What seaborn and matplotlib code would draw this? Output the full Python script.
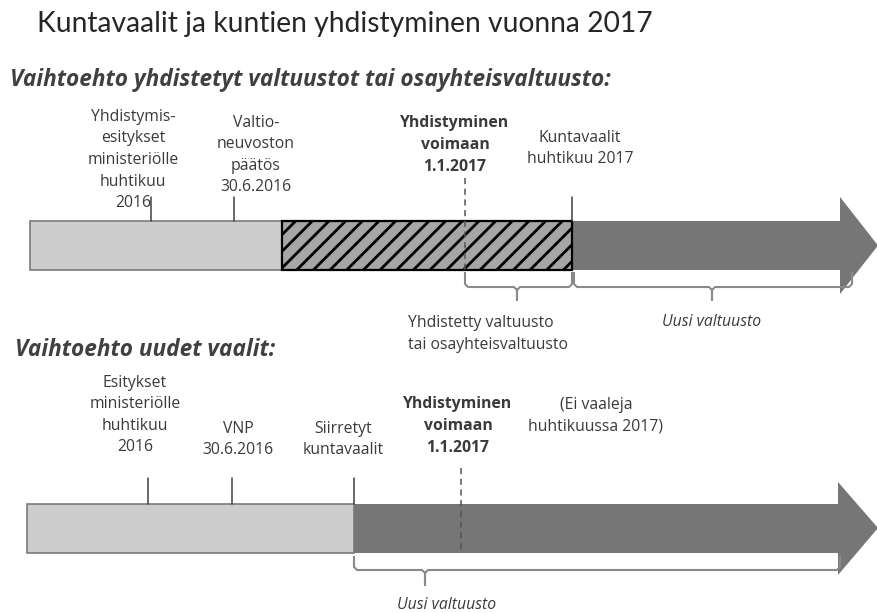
import matplotlib.pyplot as plt
import seaborn as sns
from matplotlib.patches import Polygon

# texts
title = "Kuntavaalit ja kuntien yhdistyminen vuonna 2017"
top_heading = "Vaihtoehto yhdistetyt valtuustot tai osayhteisvaltuusto:"
bottom_heading = "Vaihtoehto uudet vaalit:"

# timeline positions (px-like units along the bar)
top_bounds = [30, 282, 572, 840]      # light, hatched, new council, arrow head start
bottom_bounds = [27, 354, 838]        # light, new council, arrow head start
arrow_tip = 878

top_event_labels = ["Yhdistymis-\nesitykset\nministeriölle\nhuhtikuu\n2016",
                    "Valtio-\nneuvoston\npäätös\n30.6.2016",
                    "Yhdistyminen\nvoimaan\n1.1.2017",
                    "Kuntavaalit\nhuhtikuu 2017"]
top_event_pos = [151, 234, 465, 572]
top_event_dashed = [False, False, True, False]

bottom_event_labels = ["Esitykset\nministeriölle\nhuhtikuu\n2016",
                       "VNP\n30.6.2016",
                       "Siirretyt\nkuntavaalit",
                       "Yhdistyminen\nvoimaan\n1.1.2017"]
bottom_event_pos = [148, 232, 354, 461]
bottom_event_dashed = [False, False, False, True]
bottom_note = "(Ei vaaleja\nhuhtikuussa 2017)"

top_periods = ["Yhdistetty valtuusto\ntai osayhteisvaltuusto", "Uusi valtuusto"]
top_period_spans = [(465, 572, 517), (574, 852, 712)]
bottom_periods = ["Uusi valtuusto"]
bottom_period_spans = [(354, 840, 425)]

LIGHT = "#cdcdcd"
HATCH = "#a6a6a6"
DARK = "#767676"
TXT = "#3a3a3a"
LBL_FONT = ["Open Sans", "DejaVu Sans"]
LBL_SIZE = 11.3
LSP = 1.46

sns.set_theme(style="white")
plt.rcParams["font.family"] = ["Lato", "DejaVu Sans"]
plt.rcParams["hatch.linewidth"] = 2.0

fig = plt.figure(figsize=(8.78, 6.13), dpi=100)
ax = fig.add_axes([0, 0, 1, 1])
ax.set_xlim(0, 878)
ax.set_ylim(613, 0)
ax.axis("off")


def brace(x0, x1, xm, y0, y1, y2):
    xs = [x0, x0, x0 + 3, xm - 3, xm, xm, xm, xm + 3, x1 - 3, x1, x1]
    ys = [y0, y1 - 3, y1, y1, y1 + 3, y2, y1 + 3, y1, y1, y1 - 3, y0]
    ax.plot(xs, ys, color="#8a8a8a", lw=1.5, solid_capstyle="butt", zorder=5)


def event_lines(pos, dashed, y_top, y_dash_top, y_bar_top, y_bar_bot):
    for x, d in zip(pos, dashed):
        if d:
            ax.plot([x, x], [y_dash_top, y_bar_bot], color="#555555", lw=1.1,
                    ls=(0, (4, 3)), zorder=6)
        else:
            ax.plot([x, x], [y_top, y_bar_top], color="#404040", lw=1.1, zorder=6)


def label(x, y, s, **kw):
    opts = dict(ha="center", va="center", fontsize=LBL_SIZE, color=TXT,
                linespacing=LSP, family=LBL_FONT)
    opts.update(kw)
    ax.text(x, y, s, **opts)


# ---- top timeline ----
yc, h = 245.5, 49
ax.barh(yc, top_bounds[1] - top_bounds[0], left=top_bounds[0], height=h,
        color=LIGHT, edgecolor="#7a7a7a", lw=1.2, zorder=2)
ax.barh(yc, top_bounds[2] - top_bounds[1], left=top_bounds[1], height=h,
        color=HATCH, edgecolor="black", hatch="//", lw=1.6, zorder=3)
ax.barh(yc, top_bounds[3] - top_bounds[2] + 1, left=top_bounds[2], height=h,
        color=DARK, lw=0, zorder=2)
ax.add_patch(Polygon([(top_bounds[3], 197), (arrow_tip, yc), (top_bounds[3], 294)],
                     closed=True, color=DARK, lw=0, zorder=2))
event_lines(top_event_pos, top_event_dashed, 197, 178, yc - h / 2, yc + h / 2)

label_xy_top = [(133, 160), (256, 155), (455, 145), (580, 148.5)]
for lab, (x, y), d in zip(top_event_labels, label_xy_top, top_event_dashed):
    label(x, y, lab, fontweight="bold" if d else "normal")

for (x0, x1, xm) in top_period_spans:
    brace(x0, x1, xm, 272, 287, 300)
label(408, 334, top_periods[0], ha="left")
label(712, 322, top_periods[1], style="italic")

# ---- bottom timeline ----
yc2 = 528
ax.barh(yc2, bottom_bounds[1] - bottom_bounds[0], left=bottom_bounds[0], height=h,
        color=LIGHT, edgecolor="#7a7a7a", lw=1.2, zorder=2)
ax.barh(yc2, bottom_bounds[2] - bottom_bounds[1] + 1, left=bottom_bounds[1], height=h,
        color=DARK, lw=0, zorder=3)
ax.add_patch(Polygon([(bottom_bounds[2], 482), (arrow_tip, yc2), (bottom_bounds[2], 575)],
                     closed=True, color=DARK, lw=0, zorder=2))
event_lines(bottom_event_pos, bottom_event_dashed, 478, 468, yc2 - h / 2, yc2 + h / 2)

label_xy_bot = [(135, 415), (238, 439.5), (343, 439.5), (458, 426)]
for lab, (x, y), d in zip(bottom_event_labels, label_xy_bot, bottom_event_dashed):
    label(x, y, lab, fontweight="bold" if d else "normal")
label(596, 416, bottom_note)

for (x0, x1, xm) in bottom_period_spans:
    brace(x0, x1, xm, 556, 570, 585)
label(447, 605, bottom_periods[0], style="italic")

# ---- headings ----
ax.text(37, 32, title, ha="left", va="baseline", fontsize=20.3, color="#262626")
ax.text(10, 86, top_heading, ha="left", va="baseline", fontsize=16.3,
        color="#404040", fontweight="bold", style="italic", family=LBL_FONT)
ax.text(15, 356, bottom_heading, ha="left", va="baseline", fontsize=16.3,
        color="#404040", fontweight="bold", style="italic", family=LBL_FONT)

fig.savefig("out.png", dpi=100)
